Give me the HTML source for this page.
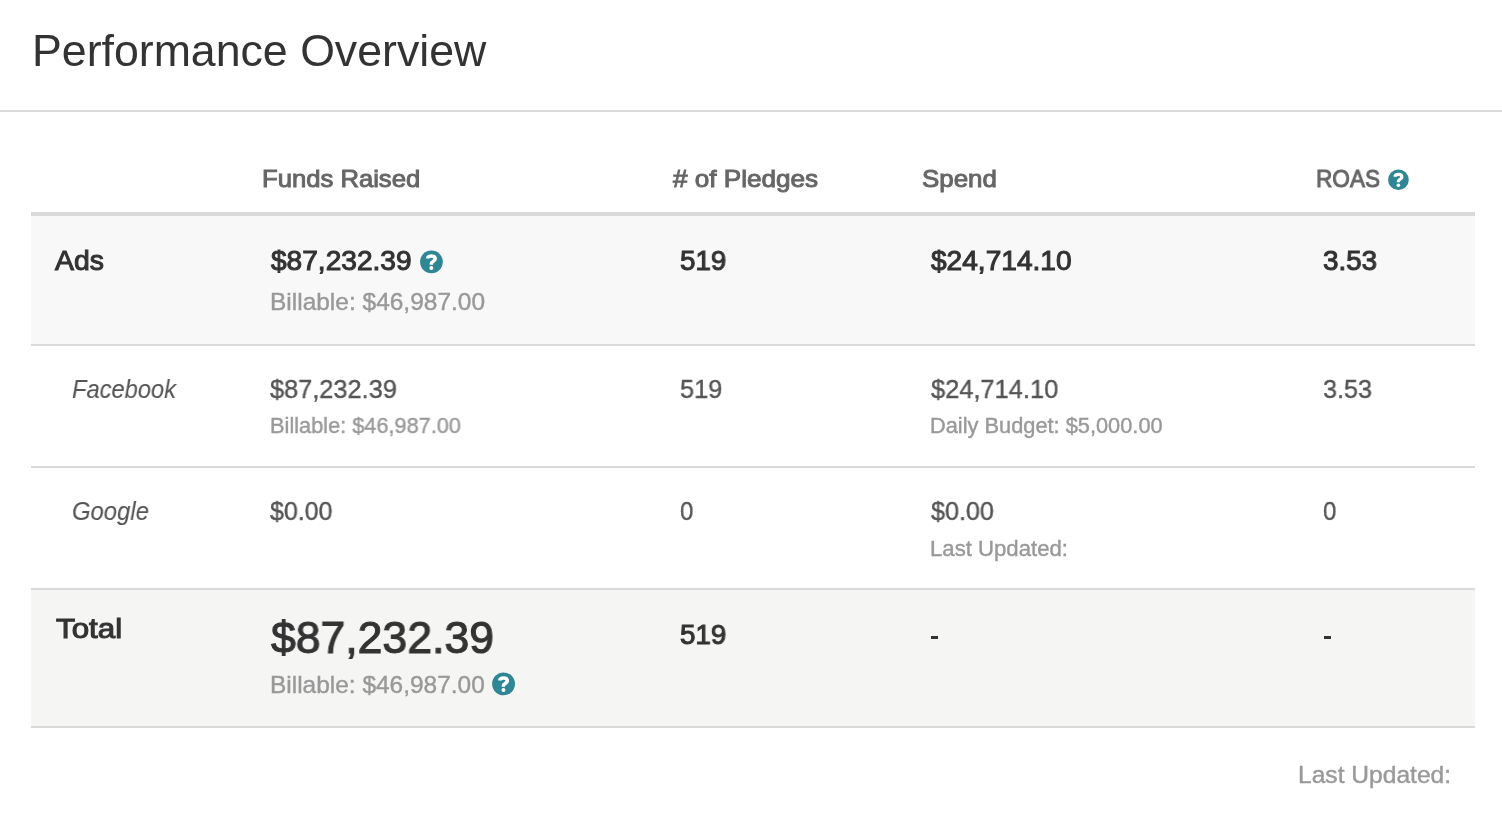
<!DOCTYPE html>
<html><head><meta charset="utf-8"><title>Performance Overview</title>
<style>
html,body{margin:0;padding:0;background:#ffffff;}
body{width:1502px;height:824px;overflow:hidden;position:relative;font-family:"Liberation Sans",sans-serif;}
.t{position:absolute;white-space:nowrap;transform-origin:0 0;will-change:transform;}
.r{position:absolute;}
h1{margin:0;font-weight:400;}
.ic{position:absolute;overflow:visible;}
</style></head><body>
<div class="r" style="left:0;top:110px;width:1502px;height:2px;background:#dadada"></div>
<div class="r" style="left:31px;top:212px;width:1444px;height:4px;background:#dadada"></div>
<div class="r" style="left:31px;top:216px;width:1444px;height:128px;background:#f8f8f8"></div>
<div class="r" style="left:31px;top:344px;width:1444px;height:2px;background:#d9d9d9"></div>
<div class="r" style="left:31px;top:466px;width:1444px;height:2px;background:#d9d9d9"></div>
<div class="r" style="left:31px;top:588px;width:1444px;height:2px;background:#d9d9d9"></div>
<div class="r" style="left:31px;top:590px;width:1444px;height:136px;background:#f5f5f4"></div>
<div class="r" style="left:31px;top:726px;width:1444px;height:2px;background:#d9d9d9"></div>
<div class="r" style="left:931px;top:636px;width:7px;height:3px;background:#333"></div>
<div class="r" style="left:1324px;top:636px;width:7px;height:3px;background:#333"></div>
<h1 class="t" style="left:31.59px;top:24.00px;font-size:44.6px;line-height:54px;color:#333333;transform:scaleX(1.0017);">Performance Overview</h1>
<div class="t" style="left:262.34px;top:164.12px;font-size:24.0px;line-height:29px;color:#666666;-webkit-text-stroke:0.95px #666666;transform:scaleX(1.0683);">Funds Raised</div>
<div class="t" style="left:672.52px;top:164.12px;font-size:24.0px;line-height:29px;color:#666666;-webkit-text-stroke:0.95px #666666;transform:scaleX(1.0880);"># of Pledges</div>
<div class="t" style="left:922.03px;top:164.22px;font-size:24.0px;line-height:29px;color:#666666;-webkit-text-stroke:0.95px #666666;transform:scaleX(1.0779);">Spend</div>
<div class="t" style="left:1316.31px;top:164.22px;font-size:24.0px;line-height:29px;color:#666666;-webkit-text-stroke:0.95px #666666;transform:scaleX(0.9424);">ROAS</div>
<div class="t" style="left:55.38px;top:244.38px;font-size:27.9px;line-height:33px;color:#333333;-webkit-text-stroke:1.05px #333333;transform:scaleX(1.0184);">Ads</div>
<div class="t" style="left:270.53px;top:244.48px;font-size:27.9px;line-height:33px;color:#333333;-webkit-text-stroke:1.05px #333333;transform:scaleX(1.0069);">$87,232.39</div>
<div class="t" style="left:270.08px;top:287.20px;font-size:23.9px;line-height:29px;color:#999999;-webkit-text-stroke:0.40px #999999;transform:scaleX(1.0245);">Billable: $46,987.00</div>
<div class="t" style="left:680.43px;top:244.48px;font-size:27.9px;line-height:33px;color:#333333;-webkit-text-stroke:1.05px #333333;transform:scaleX(0.9941);">519</div>
<div class="t" style="left:931.18px;top:244.48px;font-size:27.9px;line-height:33px;color:#333333;-webkit-text-stroke:1.05px #333333;transform:scaleX(1.0073);">$24,714.10</div>
<div class="t" style="left:1323.13px;top:244.48px;font-size:27.9px;line-height:33px;color:#333333;-webkit-text-stroke:1.05px #333333;transform:scaleX(0.9959);">3.53</div>
<div class="t" style="left:72.14px;top:372.75px;font-size:26.5px;line-height:32px;color:#555555;-webkit-text-stroke:0.10px #555555;font-style:italic;transform:scaleX(0.8923);">Facebook</div>
<div class="t" style="left:270.19px;top:372.60px;font-size:26.5px;line-height:32px;color:#555555;-webkit-text-stroke:0.40px #555555;transform:scaleX(0.9562);">$87,232.39</div>
<div class="t" style="left:269.70px;top:413.30px;font-size:21.8px;line-height:26px;color:#999999;-webkit-text-stroke:0.40px #999999;transform:scaleX(0.9971);">Billable: $46,987.00</div>
<div class="t" style="left:680.14px;top:372.60px;font-size:26.5px;line-height:32px;color:#555555;-webkit-text-stroke:0.40px #555555;transform:scaleX(0.9562);">519</div>
<div class="t" style="left:930.89px;top:372.60px;font-size:26.5px;line-height:32px;color:#555555;-webkit-text-stroke:0.40px #555555;transform:scaleX(0.9592);">$24,714.10</div>
<div class="t" style="left:930.45px;top:413.30px;font-size:21.8px;line-height:26px;color:#999999;-webkit-text-stroke:0.40px #999999;transform:scaleX(1.0000);">Daily Budget: $5,000.00</div>
<div class="t" style="left:1322.74px;top:372.60px;font-size:26.5px;line-height:32px;color:#555555;-webkit-text-stroke:0.40px #555555;transform:scaleX(0.9515);">3.53</div>
<div class="t" style="left:72.14px;top:494.65px;font-size:26.5px;line-height:32px;color:#555555;-webkit-text-stroke:0.10px #555555;font-style:italic;transform:scaleX(0.9008);">Google</div>
<div class="t" style="left:270.19px;top:494.60px;font-size:26.5px;line-height:32px;color:#555555;-webkit-text-stroke:0.40px #555555;transform:scaleX(0.9428);">$0.00</div>
<div class="t" style="left:680.18px;top:494.60px;font-size:26.5px;line-height:32px;color:#555555;-webkit-text-stroke:0.40px #555555;transform:scaleX(0.9030);">0</div>
<div class="t" style="left:930.84px;top:494.60px;font-size:26.5px;line-height:32px;color:#555555;-webkit-text-stroke:0.40px #555555;transform:scaleX(0.9496);">$0.00</div>
<div class="t" style="left:930.39px;top:535.80px;font-size:21.8px;line-height:26px;color:#999999;-webkit-text-stroke:0.40px #999999;transform:scaleX(1.0167);">Last Updated:</div>
<div class="t" style="left:1323.28px;top:494.60px;font-size:26.5px;line-height:32px;color:#555555;-webkit-text-stroke:0.40px #555555;transform:scaleX(0.9030);">0</div>
<div class="t" style="left:55.59px;top:612.38px;font-size:27.9px;line-height:33px;color:#333333;-webkit-text-stroke:1.05px #333333;transform:scaleX(1.1231);">Total</div>
<div class="t" style="left:271.34px;top:610.65px;font-size:45.0px;line-height:54px;color:#333333;-webkit-text-stroke:1.10px #333333;transform:scaleX(0.9898);">$87,232.39</div>
<div class="t" style="left:269.98px;top:669.80px;font-size:23.9px;line-height:29px;color:#999999;-webkit-text-stroke:0.40px #999999;transform:scaleX(1.0235);">Billable: $46,987.00</div>
<div class="t" style="left:680.43px;top:618.38px;font-size:27.9px;line-height:33px;color:#333333;-webkit-text-stroke:1.05px #333333;transform:scaleX(0.9941);">519</div>
<div class="t" style="left:1297.88px;top:759.90px;font-size:23.9px;line-height:29px;color:#999999;-webkit-text-stroke:0.40px #999999;transform:scaleX(1.0292);">Last Updated:</div>
<svg class="ic" style="left:1383px;top:164px" width="30" height="30" viewBox="0 0 30 30"><g transform="translate(5.100 5.400) scale(0.8625)"><circle cx="12" cy="12" r="12" fill="#2f8694"/><path d="M7.9 8.4 C8.2 6.4 9.8 5.7 12.0 5.7 C14.3 5.7 16.0 6.9 16.0 8.8 C16.0 10.4 14.7 11.1 13.4 11.8 C12.4 12.4 11.9 12.8 11.9 13.8 L11.9 15.0" fill="none" stroke="#fff" stroke-width="3.7"/><circle cx="11.9" cy="18.5" r="2.1" fill="#fff"/></g></svg>
<svg class="ic" style="left:416px;top:246px" width="30" height="30" viewBox="0 0 30 30"><g transform="translate(4.100 4.550) scale(0.9458)"><circle cx="12" cy="12" r="12" fill="#2f8694"/><path d="M7.9 8.4 C8.2 6.4 9.8 5.7 12.0 5.7 C14.3 5.7 16.0 6.9 16.0 8.8 C16.0 10.4 14.7 11.1 13.4 11.8 C12.4 12.4 11.9 12.8 11.9 13.8 L11.9 15.0" fill="none" stroke="#fff" stroke-width="3.7"/><circle cx="11.9" cy="18.5" r="2.1" fill="#fff"/></g></svg>
<svg class="ic" style="left:488px;top:668px" width="30" height="30" viewBox="0 0 30 30"><g transform="translate(4.150 4.500) scale(0.9500)"><circle cx="12" cy="12" r="12" fill="#2f8694"/><path d="M7.9 8.4 C8.2 6.4 9.8 5.7 12.0 5.7 C14.3 5.7 16.0 6.9 16.0 8.8 C16.0 10.4 14.7 11.1 13.4 11.8 C12.4 12.4 11.9 12.8 11.9 13.8 L11.9 15.0" fill="none" stroke="#fff" stroke-width="3.7"/><circle cx="11.9" cy="18.5" r="2.1" fill="#fff"/></g></svg>
</body></html>
